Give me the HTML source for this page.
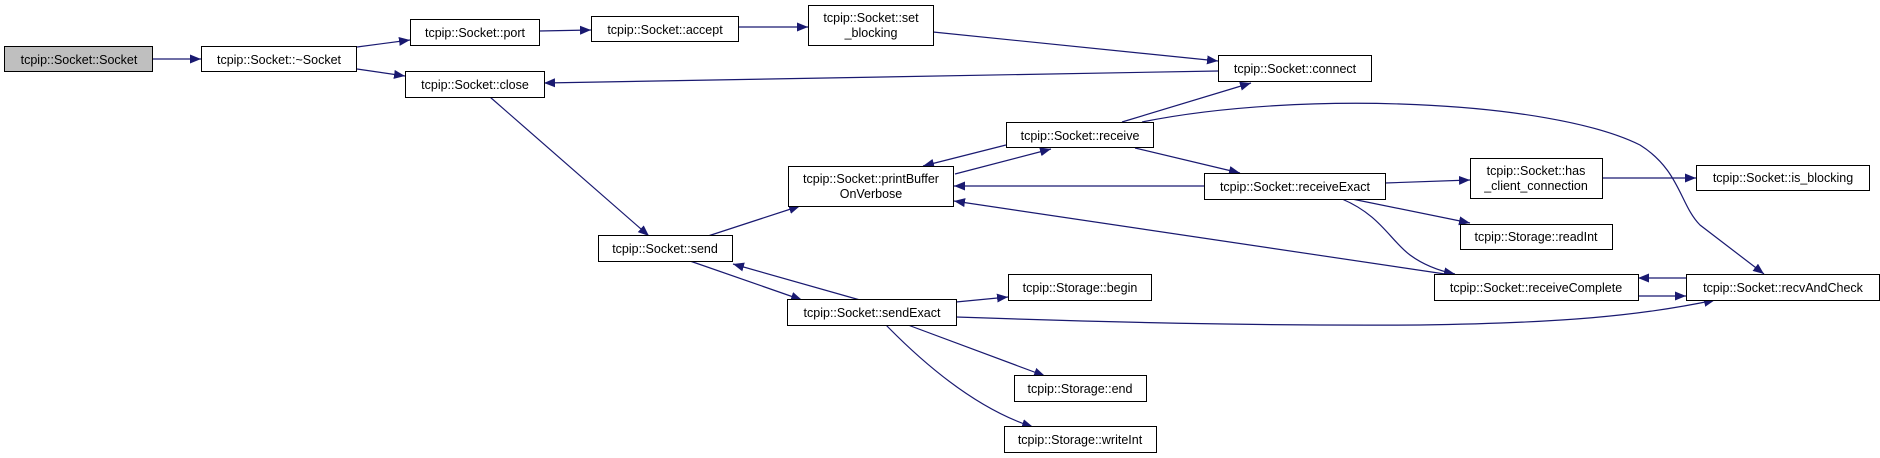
<!DOCTYPE html>
<html><head><meta charset="utf-8"><style>
html,body{margin:0;padding:0;background:#fff;width:1880px;height:458px;overflow:hidden}
svg text{font-family:"Liberation Sans",Arial,sans-serif;font-size:12.5px;fill:#000}
</style></head><body>
<svg width="1880" height="458" xmlns="http://www.w3.org/2000/svg">
<defs><marker id="a" markerUnits="userSpaceOnUse" markerWidth="12" markerHeight="10" refX="11" refY="4.5" orient="auto"><path d="M0,0 L11,4.5 L0,9 z" fill="#191970"/></marker></defs>
<g stroke="#191970" stroke-width="1.2" fill="none" marker-end="url(#a)">
<path d="M153,59 L201,59"/>
<path d="M357,47 L410,40"/>
<path d="M357,69 L405,76"/>
<path d="M539,31 L591,30"/>
<path d="M738,27 L808,27"/>
<path d="M933,32 L1218,61"/>
<path d="M1218,71 L544,83"/>
<path d="M490,97 L649,236"/>
<path d="M708,236 L800,206"/>
<path d="M955,174 L1051,149"/>
<path d="M1006,145 L923,166"/>
<path d="M1122,122 L1251,83"/>
<path d="M1142,122 C1300,90 1550,100 1640,145 C1680,170 1680,205 1700,225 L1764,274"/>
<path d="M1135,148 L1240,173"/>
<path d="M1204,186 L954,186"/>
<path d="M1385,183 L1470,180"/>
<path d="M1352,199 L1470,223"/>
<path d="M1342,199 C1380,215 1390,240 1410,255 C1425,266 1440,271 1455,274"/>
<path d="M1602,178 L1696,178"/>
<path d="M1445,274 L954,201"/>
<path d="M1638,296 L1686,296"/>
<path d="M1686,278 L1638,278"/>
<path d="M860,300 L733,264"/>
<path d="M690,261 L802,300"/>
<path d="M956,302 L1008,297"/>
<path d="M956,317 C1100,322 1250,326 1420,325 C1560,323 1640,316 1715,300"/>
<path d="M908,325 L1045,376"/>
<path d="M886,325 C930,370 980,410 1033,427"/>
</g>
<g stroke="#000" stroke-width="1">
<rect x="4.5" y="46.5" width="148" height="25" fill="#bfbfbf"/>
<rect x="201.5" y="46.5" width="155" height="25" fill="#fff"/>
<rect x="410.5" y="19.5" width="129" height="26" fill="#fff"/>
<rect x="405.5" y="71.5" width="139" height="26" fill="#fff"/>
<rect x="591.5" y="16.5" width="147" height="25" fill="#fff"/>
<rect x="808.5" y="5.5" width="125" height="40" fill="#fff"/>
<rect x="1218.5" y="55.5" width="153" height="26" fill="#fff"/>
<rect x="1006.5" y="122.5" width="147" height="25" fill="#fff"/>
<rect x="788.5" y="166.5" width="165" height="40" fill="#fff"/>
<rect x="1204.5" y="173.5" width="181" height="26" fill="#fff"/>
<rect x="1470.5" y="158.5" width="132" height="40" fill="#fff"/>
<rect x="1696.5" y="165.5" width="173" height="25" fill="#fff"/>
<rect x="1460.5" y="224.5" width="152" height="25" fill="#fff"/>
<rect x="1434.5" y="274.5" width="204" height="26" fill="#fff"/>
<rect x="1686.5" y="274.5" width="193" height="26" fill="#fff"/>
<rect x="598.5" y="235.5" width="134" height="26" fill="#fff"/>
<rect x="787.5" y="299.5" width="169" height="26" fill="#fff"/>
<rect x="1008.5" y="274.5" width="143" height="26" fill="#fff"/>
<rect x="1014.5" y="375.5" width="132" height="26" fill="#fff"/>
<rect x="1004.5" y="426.5" width="152" height="26" fill="#fff"/>
</g>
<g text-anchor="middle">
<text x="79" y="64">tcpip::Socket::Socket</text>
<text x="279" y="64">tcpip::Socket::~Socket</text>
<text x="475" y="37">tcpip::Socket::port</text>
<text x="475" y="89">tcpip::Socket::close</text>
<text x="665" y="34">tcpip::Socket::accept</text>
<text x="871" y="22">tcpip::Socket::set</text>
<text x="871" y="37">_blocking</text>
<text x="1295" y="73">tcpip::Socket::connect</text>
<text x="1080" y="140">tcpip::Socket::receive</text>
<text x="871" y="183">tcpip::Socket::printBuffer</text>
<text x="871" y="198">OnVerbose</text>
<text x="1295" y="191">tcpip::Socket::receiveExact</text>
<text x="1536" y="175">tcpip::Socket::has</text>
<text x="1536" y="190">_client_connection</text>
<text x="1783" y="182">tcpip::Socket::is_blocking</text>
<text x="1536" y="241">tcpip::Storage::readInt</text>
<text x="1536" y="292">tcpip::Socket::receiveComplete</text>
<text x="1783" y="292">tcpip::Socket::recvAndCheck</text>
<text x="665" y="253">tcpip::Socket::send</text>
<text x="872" y="317">tcpip::Socket::sendExact</text>
<text x="1080" y="292">tcpip::Storage::begin</text>
<text x="1080" y="393">tcpip::Storage::end</text>
<text x="1080" y="444">tcpip::Storage::writeInt</text>
</g>
</svg>
</body></html>
